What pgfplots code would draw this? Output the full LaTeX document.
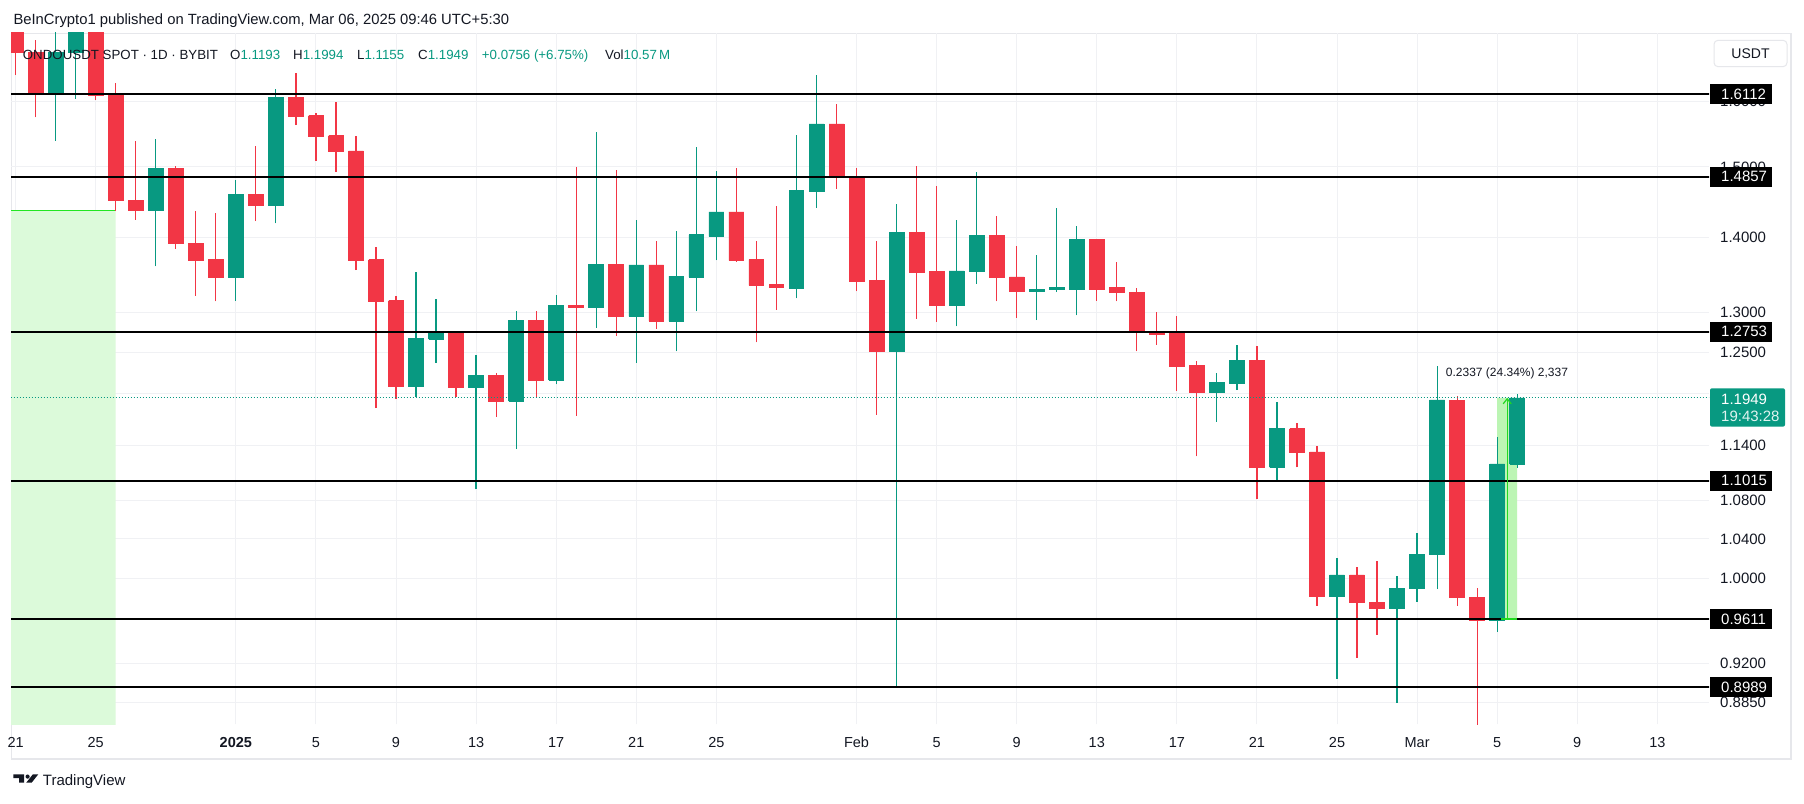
\documentclass[border=0pt]{standalone}
\usepackage{fontspec}
\setmainfont{Liberation Sans}
\usepackage{pgfplots}
\pgfplotsset{compat=1.18}
\usepackage{pgfplotstable}
\usetikzlibrary{arrows.meta}

\definecolor{cup}{HTML}{089981}
\definecolor{cdn}{HTML}{F23645}
\definecolor{tvtext}{HTML}{131722}
\definecolor{gridc}{HTML}{F0F1F4}
\definecolor{framec}{HTML}{E6E7EB}
\definecolor{zone}{HTML}{DCFADA}
\definecolor{zoneline}{HTML}{22E622}
\definecolor{measfill}{HTML}{BCF5B4}
\definecolor{measline}{HTML}{22D922}

\newcommand\fyt{\fontsize{15}{18}\selectfont}
\newcommand\fxt{\fontsize{14.5}{17}\selectfont}
\newcommand\flg{\fontsize{13.3}{16}\selectfont}

% day index (0 = 1 Jan 2025), open, high, low, close
\pgfplotstableread{
d o h l c
-11 1.730 1.760 1.642 1.679
-10 1.679 1.700 1.575 1.615
-9 1.615 1.720 1.539 1.679
-8 1.679 1.760 1.604 1.730
-7 1.730 1.760 1.602 1.609
-6 1.610 1.629 1.437 1.451
-5 1.452 1.539 1.424 1.437
-4 1.437 1.542 1.360 1.498
-3 1.498 1.502 1.384 1.391
-2 1.391 1.436 1.321 1.368
-1 1.369 1.434 1.314 1.346
0 1.346 1.481 1.315 1.460
1 1.460 1.531 1.422 1.445
2 1.445 1.619 1.419 1.606
3 1.606 1.645 1.563 1.577
4 1.578 1.582 1.509 1.546
5 1.547 1.599 1.493 1.523
6 1.524 1.547 1.355 1.368
7 1.369 1.386 1.183 1.314
8 1.315 1.321 1.194 1.208
9 1.208 1.353 1.196 1.267
10 1.266 1.317 1.237 1.274
11 1.274 1.276 1.196 1.207
12 1.207 1.247 1.092 1.222
13 1.222 1.225 1.173 1.191
14 1.191 1.301 1.136 1.290
15 1.290 1.302 1.196 1.216
16 1.216 1.322 1.211 1.309
17 1.309 1.500 1.174 1.306
18 1.306 1.553 1.280 1.363
19 1.363 1.496 1.270 1.295
20 1.295 1.424 1.237 1.362
21 1.362 1.395 1.279 1.289
22 1.289 1.408 1.251 1.347
23 1.346 1.530 1.301 1.403
24 1.401 1.494 1.368 1.435
25 1.435 1.499 1.366 1.368
26 1.369 1.394 1.262 1.335
27 1.336 1.443 1.303 1.332
28 1.331 1.548 1.318 1.466
29 1.465 1.642 1.441 1.565
30 1.565 1.596 1.468 1.485
31 1.486 1.499 1.327 1.340
32 1.341 1.395 1.175 1.251
33 1.251 1.446 0.899 1.406
34 1.406 1.502 1.292 1.352
35 1.353 1.472 1.288 1.309
36 1.309 1.424 1.282 1.354
37 1.353 1.492 1.337 1.402
38 1.402 1.430 1.314 1.345
39 1.346 1.388 1.293 1.327
40 1.327 1.375 1.290 1.330
41 1.330 1.440 1.326 1.332
42 1.330 1.415 1.296 1.397
43 1.397 1.398 1.315 1.330
44 1.332 1.366 1.314 1.326
45 1.326 1.332 1.251 1.276
46 1.276 1.300 1.259 1.272
47 1.273 1.295 1.203 1.233
48 1.234 1.239 1.128 1.201
49 1.201 1.225 1.167 1.213
50 1.212 1.259 1.204 1.240
51 1.240 1.257 1.0816 1.116
52 1.116 1.190 1.102 1.159
53 1.159 1.166 1.116 1.132
54 1.133 1.140 0.9738 0.9824
55 0.9824 1.0206 0.9062 1.0037
56 1.0037 1.012 0.925 0.9766
57 0.977 1.0176 0.9461 0.9709
58 0.971 1.0027 0.8852 0.9906
59 0.9904 1.0463 0.9776 1.0246
60 1.0239 1.2327 0.9899 1.1924
61 1.192 1.197 0.9738 0.9815
62 0.982 0.9906 0.865 0.9594
63 0.9594 1.1494 0.9491 1.1196
64 1.1193 1.1994 1.1155 1.1949
}\ohlc

\begin{document}
\begin{tikzpicture}[x=1pt,y=1pt]
\path[use as bounding box] (0,0) rectangle (1804,803);
\fill[white] (0,0) rectangle (1804,803);
\draw[framec, line width=1.5pt] (11.5,769.7) rectangle (1791,44.2);

\begin{axis}[
  at={(11pt,79pt)}, anchor=south west,
  scale only axis, width=1698pt, height=691pt,
  xmin=-11.23, xmax=73.58,
  ymode=log, ymin=0.8667, ymax=1.7115,
  axis line style={draw=none},
  tick style={draw=none},
  xtick={-11,-7,0,4,8,12,16,20,24,31,35,39,43,47,51,55,59,63,67,71},
  xticklabels={21,25,\textbf{2025},5,9,13,17,21,25,Feb,5,9,13,17,21,25,Mar,5,9,13},
  ytick={0.885,0.92,1.0,1.04,1.08,1.14,1.2,1.25,1.3,1.4,1.5,1.6},
  yticklabels={0.8850,0.9200,1.0000,1.0400,1.0800,1.1400,{},1.2500,1.3000,1.4000,1.5000,1.6000},
  yticklabel pos=right,
  xticklabel style={anchor=base, yshift=-23.3pt, inner sep=0pt, text=tvtext, font=\fxt},
  yticklabel style={anchor=west, xshift=11pt, inner sep=0pt, text=tvtext, font=\fyt},
  grid=major, grid style={gridc, line width=1pt},
  clip=true,
]
% green zone on the left
\addplot[fill=zone, draw=none, forget plot] coordinates {(-11.5,0.86) (-6,0.86) (-6,1.437) (-11.5,1.437) (-11.5,0.86)};
\addplot[zoneline, line width=1.3pt, forget plot] coordinates {(-11.5,1.437) (-6,1.437)};
% measure box
\addplot[fill=measfill, draw=none, forget plot] coordinates {(63,0.9612) (64,0.9612) (64,1.1949) (63,1.1949) (63,0.9612)};

% candles
\pgfplotstablegetrowsof{\ohlc}
\pgfmathtruncatemacro{\lastrow}{\pgfplotsretval-1}
\pgfplotsforeachungrouped \rr in {0,...,\lastrow} {
  \pgfplotstablegetelem{\rr}{d}\of\ohlc \edef\cD{\pgfplotsretval}
  \pgfplotstablegetelem{\rr}{o}\of\ohlc \edef\cO{\pgfplotsretval}
  \pgfplotstablegetelem{\rr}{h}\of\ohlc \edef\cH{\pgfplotsretval}
  \pgfplotstablegetelem{\rr}{l}\of\ohlc \edef\cL{\pgfplotsretval}
  \pgfplotstablegetelem{\rr}{c}\of\ohlc \edef\cC{\pgfplotsretval}
  \pgfmathsetmacro{\xa}{\cD-0.37}
  \pgfmathsetmacro{\xb}{\cD+0.37}
  \pgfmathtruncatemacro{\up}{\cC>=\cO}
  \ifnum\up=1 \def\col{cup}\else\def\col{cdn}\fi
  \edef\cmd{%
    \noexpand\addplot[\col, line width=1.2pt, forget plot] coordinates {(\cD,\cL) (\cD,\cH)};
    \noexpand\addplot[fill=\col, draw=\col, line width=0.7pt, forget plot] coordinates {(\xa,\cO) (\xb,\cO) (\xb,\cC) (\xa,\cC) (\xa,\cO)};
  }%
  \cmd
}

% horizontal levels
\addplot[black, line width=2pt, forget plot] coordinates {(-12,1.6112) (75,1.6112)};
\addplot[black, line width=2pt, forget plot] coordinates {(-12,1.4857) (75,1.4857)};
\addplot[black, line width=2pt, forget plot] coordinates {(-12,1.2753) (75,1.2753)};
\addplot[black, line width=2pt, forget plot] coordinates {(-12,1.1015) (75,1.1015)};
\addplot[black, line width=2pt, forget plot] coordinates {(-12,0.9611) (75,0.9611)};
\addplot[black, line width=2pt, forget plot] coordinates {(-12,0.8989) (75,0.8989)};
% current price
\addplot[cup, line width=1.2pt, dash pattern=on 1.2pt off 1.8pt, forget plot] coordinates {(-12,1.1949) (75,1.1949)};
% measure arrow and edges
\addplot[measline, line width=1.2pt, forget plot] coordinates {(63.2,0.9612) (64,0.9612)};
\addplot[measline, line width=1.2pt, -{Straight Barb[length=5pt,width=8pt]}, forget plot] coordinates {(63.5,0.9612) (63.5,1.1949)};
\node[text=tvtext, font=\fontsize{12}{14}\selectfont, inner sep=0pt] at (axis cs:63.49,1.2241) {0.2337 (24.34\%) 2,337};

\coordinate (R1) at (axis cs:73.58,1.6112);
\coordinate (R2) at (axis cs:73.58,1.4857);
\coordinate (R3) at (axis cs:73.58,1.2753);
\coordinate (R4) at (axis cs:73.58,1.1015);
\coordinate (R5) at (axis cs:73.58,0.9611);
\coordinate (R6) at (axis cs:73.58,0.8989);
\coordinate (RC) at (axis cs:73.58,1.1949);
\end{axis}

% price boxes on the right
\foreach \n/\t in {R1/1.6112,R2/1.4857,R3/1.2753,R4/1.1015,R5/0.9611,R6/0.8989}{
  \fill[black] ([xshift=1pt,yshift=-10pt]\n) rectangle ++(62pt,20pt);
  \node[anchor=west, inner sep=0pt, text=white, font=\fyt] at ([xshift=12pt]\n) {\t};
}
\fill[cup, rounded corners=2pt] ([xshift=1pt,yshift=9.6pt]RC) rectangle ++(75pt,-38.4pt);
\node[anchor=west, inner sep=0pt, text=white, font=\fyt] at ([xshift=12pt,yshift=-1.4pt]RC) {1.1949};
\node[anchor=west, inner sep=0pt, text=white!88!cup, font=\fyt] at ([xshift=12pt,yshift=-18.8pt]RC) {19:43:28};

% USDT box
\draw[framec, line width=1pt, fill=white, rounded corners=4pt] (1714,736.3) rectangle (1787,762.7);
\node[text=tvtext, font=\fontsize{14}{16}\selectfont, inner sep=0pt] at (1750.5,749.5) {USDT};

% header
\node[anchor=base west, inner sep=0pt, text=tvtext, font=\fontsize{14.8}{17}\selectfont] at (13.3,778) {BeInCrypto1 published on TradingView.com, Mar 06, 2025 09:46 UTC+5:30};

% legend
\node[anchor=base west, inner sep=0pt, text=tvtext, font=\flg] at (22.7,743.7) {ONDOUSDT SPOT · 1D · BYBIT};
\node[anchor=base west, inner sep=0pt, text=tvtext, font=\flg] at (230,743.7) {O\textcolor{cup}{1.1193}};
\node[anchor=base west, inner sep=0pt, text=tvtext, font=\flg] at (293,743.7) {H\textcolor{cup}{1.1994}};
\node[anchor=base west, inner sep=0pt, text=tvtext, font=\flg] at (357,743.7) {L\textcolor{cup}{1.1155}};
\node[anchor=base west, inner sep=0pt, text=tvtext, font=\flg] at (418,743.7) {C\textcolor{cup}{1.1949}};
\node[anchor=base west, inner sep=0pt, text=cup, font=\flg] at (481.7,743.7) {+0.0756 (+6.75\%)};
\node[anchor=base west, inner sep=0pt, text=tvtext, font=\flg] at (605,743.7) {Vol\textcolor{cup}{10.57\,M}};

% TradingView logo
\fill[tvtext] (13.3,28.7) -- (24,28.7) -- (24,20.3) -- (19,20.3) -- (19,24.9) -- (13.3,24.9) -- cycle;
\fill[tvtext] (27.6,26.4) circle (2.1pt);
\fill[tvtext] (26.2,20.3) -- (31.6,20.3) -- (38.3,28.7) -- (32.9,28.7) -- cycle;
\node[anchor=base west, inner sep=0pt, text=tvtext, font=\fontsize{15}{17}\selectfont] at (42.7,17.3) {TradingView};
\end{tikzpicture}
\end{document}
